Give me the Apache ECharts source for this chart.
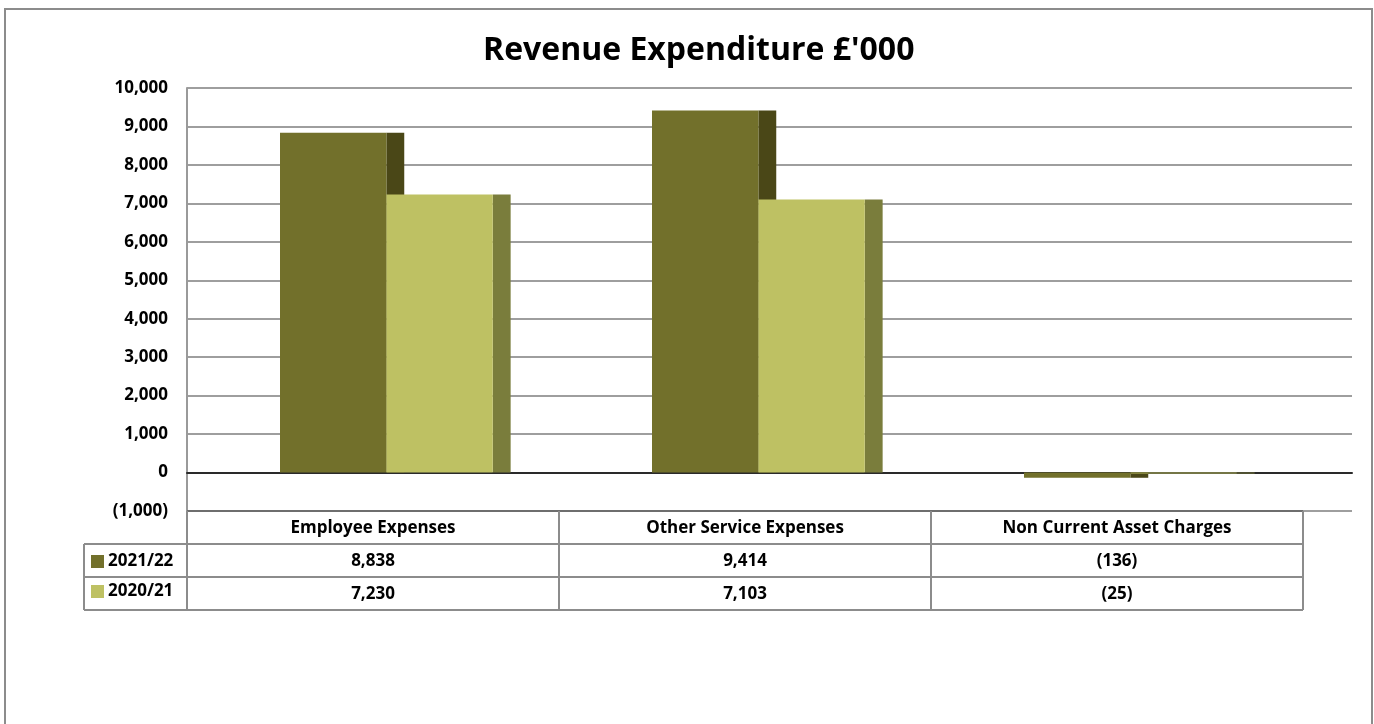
<!DOCTYPE html>
<html>
<head>
<meta charset="utf-8">
<script src="https://cdn.jsdelivr.net/npm/echarts@6/dist/echarts.min.js"></script>
<style>
  html, body { margin: 0; padding: 0; background: #fff; }
  #chart { width: 1374px; height: 724px; }
</style>
</head>
<body>
<div id="chart"></div>
<script>
// chart data
var categories = ['Employee Expenses', 'Other Service Expenses', 'Non Current Asset Charges']
var seriesNames = ['2021/22', '2020/21']
var values2122 = [8838, 9414, -136]
var values2021 = [7230, 7103, -25]
var yMin = -1000
var yMax = 10000
var yStep = 1000

// colours: front face, side face
var frontColors = ['#72702b', '#bec163']
var sideColors = ['#4a4717', '#7a7d3c']

// layout
var W = 1374
var H = 724
var GRID_LEFT = 187
var GRID_TOP = 88
var FLOOR_Y = 511
var WALL_RIGHT = 1352
var CAT_RIGHT = 1303
var ROW_H = 33
var KEY_LEFT = 84
var FONT = '"Open Sans", "Liberation Sans", sans-serif'

var catW = (CAT_RIGHT - GRID_LEFT) / categories.length

function fmt(v) {
  var s = Math.abs(v).toLocaleString('en-GB')
  return v < 0 ? '(' + s + ')' : s
}

function barRenderer(k) {
  return function (params, api) {
    var idx = api.value(0)
    var base = api.coord([idx, 0])
    var top = api.coord([idx, api.value(1)])
    var cw = api.size([1, 0])[0]
    var barW = cw * 0.286
    var depth = cw * 0.048
    var x0 = base[0] - cw / 2 + cw * 0.25 + k * barW
    var y = Math.min(base[1], top[1])
    var h = Math.abs(base[1] - top[1])
    return {
      type: 'group',
      children: [
        { type: 'rect', shape: { x: x0 + barW, y: y, width: depth, height: h }, style: { fill: sideColors[k] } },
        { type: 'rect', shape: { x: x0, y: y, width: barW, height: h }, style: { fill: frontColors[k] } }
      ]
    }
  }
}

var allValues = [values2122, values2021]

// data table lines
var tableLines = []
var line = function (x1, y1, x2, y2, c, w) {
  tableLines.push({
    type: 'line',
    shape: { x1: x1, y1: y1, x2: x2, y2: y2 },
    style: { stroke: c || '#8c8c8c', lineWidth: w || 2 },
    z: 10
  })
}
line(GRID_LEFT, FLOOR_Y, CAT_RIGHT, FLOOR_Y, '#6e6e6e')
for (var r = 1; r <= seriesNames.length; r++) {
  line(KEY_LEFT, FLOOR_Y + r * ROW_H, CAT_RIGHT, FLOOR_Y + r * ROW_H)
}
var tableBottom = FLOOR_Y + (seriesNames.length + 1) * ROW_H
line(KEY_LEFT, tableBottom, CAT_RIGHT, tableBottom)
line(KEY_LEFT, FLOOR_Y + ROW_H, KEY_LEFT, tableBottom)
for (var c = 0; c <= categories.length; c++) {
  line(GRID_LEFT + c * catW, FLOOR_Y, GRID_LEFT + c * catW, tableBottom)
}

var chart = echarts.init(document.getElementById('chart'))
var option = {
  animation: false,
  backgroundColor: '#fff',
  title: {
    text: "Revenue Expenditure £'000",
    left: 478,
    top: 30,
    textStyle: { fontFamily: FONT, fontSize: 32, fontWeight: 'bold', color: '#000' }
  },
  legend: {
    orient: 'vertical',
    left: KEY_LEFT + 7,
    top: FLOOR_Y + ROW_H + 9,
    padding: 0,
    itemWidth: 13,
    itemHeight: 13,
    itemGap: 13,
    icon: 'rect',
    data: seriesNames,
    textStyle: { fontFamily: FONT, fontSize: 17, fontWeight: 'bold', color: '#000', padding: [0, 0, 0, -1] }
  },
  grid: [
    { left: GRID_LEFT, top: GRID_TOP, right: W - WALL_RIGHT, bottom: H - FLOOR_Y },
    { left: GRID_LEFT, top: GRID_TOP, width: CAT_RIGHT - GRID_LEFT, bottom: H - FLOOR_Y }
  ],
  xAxis: [
    {
      gridIndex: 0,
      type: 'category',
      data: categories,
      axisLine: { show: true, onZero: true, lineStyle: { color: '#2a2a2a', width: 2 } },
      axisTick: { show: false },
      axisLabel: { show: false },
      splitLine: { show: false }
    },
    {
      gridIndex: 1,
      type: 'category',
      data: categories,
      axisLine: { show: false },
      axisTick: { show: false },
      splitLine: { show: false },
      axisLabel: {
        margin: 1,
        interval: 0,
        formatter: function (val, i) {
          var lines = ['{h|' + val + '}']
          allValues.forEach(function (arr) { lines.push('{v|' + fmt(arr[i]) + '}') })
          return lines.join('\n')
        },
        rich: {
          h: { fontFamily: FONT, fontSize: 17, fontWeight: 'bold', color: '#000', lineHeight: ROW_H },
          v: { fontFamily: FONT, fontSize: 17, fontWeight: 'bold', color: '#000', lineHeight: ROW_H }
        }
      }
    }
  ],
  yAxis: [
    {
      gridIndex: 0,
      type: 'value',
      min: yMin,
      max: yMax,
      interval: yStep,
      axisLine: { show: true, lineStyle: { color: '#9a9a9a', width: 2 } },
      axisTick: { show: false },
      splitLine: { show: true, lineStyle: { color: '#9e9e9e', width: 2 } },
      axisLabel: {
        margin: 19,
        formatter: fmt,
        fontFamily: FONT,
        fontSize: 17,
        fontWeight: 'bold',
        color: '#000'
      }
    },
    {
      gridIndex: 1,
      type: 'value',
      min: yMin,
      max: yMax,
      interval: yStep,
      show: false
    }
  ],
  series: seriesNames.map(function (name, k) {
    return {
      name: name,
      type: 'custom',
      xAxisIndex: 1,
      yAxisIndex: 1,
      itemStyle: { color: frontColors[k] },
      renderItem: barRenderer(k),
      encode: { x: 0, y: 1 },
      data: allValues[k].map(function (v, i) { return [i, v] }),
      z: 3
    }
  }),
  graphic: [
    {
      type: 'rect',
      shape: { x: 5, y: 9, width: 1367, height: 740 },
      style: { fill: 'none', stroke: '#8c8c8c', lineWidth: 2 },
      silent: true
    }
  ].concat(tableLines)
}
chart.setOption(option)
</script>
</body>
</html>
